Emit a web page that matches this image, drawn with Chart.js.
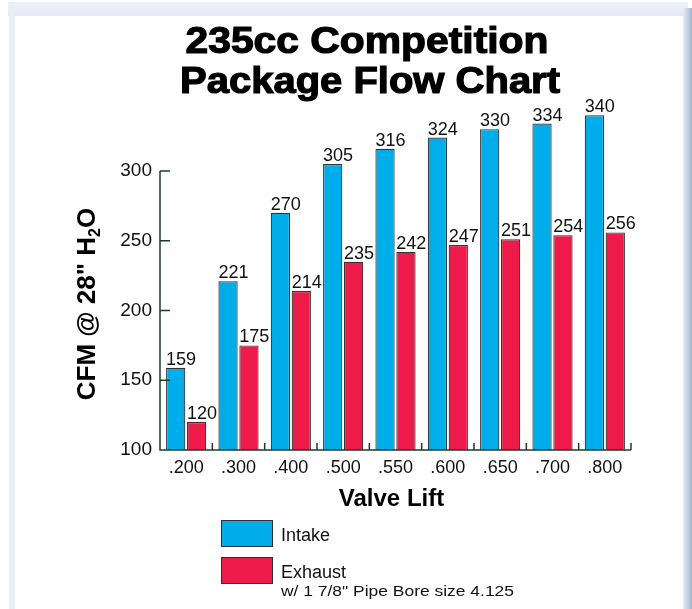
<!DOCTYPE html>
<html>
<head>
<meta charset="utf-8">
<title>235cc Competition Package Flow Chart</title>
<script src="https://cdn.jsdelivr.net/npm/chart.js@4"></script>
<style>
    html, body { margin: 0; padding: 0; background: #fff; }
    .chart-box { position: relative; width: 692px; height: 609px; }
</style>
</head>
<body>
<div class="chart-box"><canvas id="flowChart"></canvas></div>
<script>
// Chart data
const lifts = ['.200', '.300', '.400', '.500', '.550', '.600', '.650', '.700', '.800'];
const intakeCfm = [159, 221, 270, 305, 316, 324, 330, 334, 340];
const exhaustCfm = [120, 175, 214, 235, 242, 247, 251, 254, 256];
const titleLines = ['235cc Competition', 'Package Flow Chart'];
const legendNote = 'w/ 1 7/8" Pipe Bore size 4.125';

const intakeColor = '#00adeb';
const exhaustColor = '#ee1a4a';
const axisColor = '#1f3d2b';
const FONT = '"Liberation Sans", Arial, Helvetica, sans-serif';

// draw text squeezed/stretched to a given width
function fitText(ctx, text, x, y, width, align, stroke) {
    const w = ctx.measureText(text).width;
    const k = width / w;
    ctx.save();
    ctx.translate(x, y);
    ctx.scale(k, 1);
    ctx.textAlign = align || 'center';
    ctx.fillText(text, 0, 0);
    if (stroke) ctx.strokeText(text, 0, 0);
    ctx.restore();
}

// Page frame, titles, legend, axes and value labels
const decorPlugin = {
    id: 'decor',
    beforeDraw(chart) {
        const ctx = chart.ctx;
        const W = chart.width, H = chart.height;
        ctx.save();
        ctx.fillStyle = '#ffffff';
        ctx.fillRect(0, 0, W, H);
        // top band
        const g = ctx.createLinearGradient(0, 0, 0, 17);
        g.addColorStop(0, '#eef2f9');
        g.addColorStop(1, '#e2e9f5');
        ctx.fillStyle = g;
        ctx.fillRect(8, 2, W - 12, 14);
        // left band
        ctx.fillStyle = '#e8edf8';
        ctx.fillRect(9, 2, 6, H);
        // right strip
        const r = ctx.createLinearGradient(683, 0, W, 0);
        r.addColorStop(0, '#e8ecf4');
        r.addColorStop(0.5, '#c9d2e2');
        r.addColorStop(1, '#a3b2cc');
        ctx.fillStyle = r;
        ctx.fillRect(683, 8, W - 683, H);
        ctx.fillStyle = '#ffffff';
        ctx.fillRect(15, 16, 668, H);
        ctx.restore();
    },
    afterDatasetsDraw(chart) {
        const ctx = chart.ctx;
        const area = chart.chartArea;
        const xs = chart.scales.x, ys = chart.scales.y;
        ctx.save();

        // axes lines and inward ticks
        ctx.strokeStyle = axisColor;
        ctx.lineWidth = 1.5;
        ctx.beginPath();
        ctx.moveTo(area.left, area.top);
        ctx.lineTo(area.left, area.bottom);
        ctx.lineTo(area.right, area.bottom);
        ys.ticks.forEach(t => {
            const y = ys.getPixelForValue(t.value);
            ctx.moveTo(area.left, y);
            ctx.lineTo(area.left + 10, y);
        });
        for (let i = 1; i <= lifts.length; i++) {
            const x = i < lifts.length
                ? (xs.getPixelForTick(i - 1) + xs.getPixelForTick(i)) / 2
                : area.right;
            ctx.moveTo(x, area.bottom);
            ctx.lineTo(x, area.bottom - 7);
        }
        ctx.stroke();

        // value labels over the bars
        ctx.fillStyle = '#111';
        ctx.font = '18px ' + FONT;
        ctx.textAlign = 'left';
        ctx.textBaseline = 'alphabetic';
        chart.data.datasets.forEach((ds, di) => {
            chart.getDatasetMeta(di).data.forEach((bar, i) => {
                ctx.fillText(String(ds.data[i]), bar.x - bar.width / 2, bar.y - 3);
            });
        });

        // title
        ctx.fillStyle = '#000';
        ctx.font = 'bold 37px ' + FONT;
        ctx.lineWidth = 1.2;
        ctx.strokeStyle = '#000';
        fitText(ctx, titleLines[0], 367, 53, 363, 'center', true);
        fitText(ctx, titleLines[1], 370, 93, 380, 'center', true);

        // x title
        ctx.font = 'bold 24px ' + FONT;
        ctx.textAlign = 'center';
        ctx.fillText('Valve Lift', (area.left + area.right) / 2 - 4, 506);

        // y title with subscript 2
        ctx.save();
        ctx.translate(95, 304);
        ctx.rotate(-Math.PI / 2);
        const partA = 'CFM @ 28" H';
        const partB = '2';
        const partC = 'O';
        ctx.font = 'bold 26px ' + FONT;
        const wA = ctx.measureText(partA).width;
        const wC = ctx.measureText(partC).width;
        ctx.font = 'bold 16px ' + FONT;
        const wB = ctx.measureText(partB).width;
        let x0 = -(wA + wB + wC) / 2;
        ctx.textAlign = 'left';
        ctx.font = 'bold 26px ' + FONT;
        ctx.fillText(partA, x0, 0);
        ctx.font = 'bold 16px ' + FONT;
        ctx.fillText(partB, x0 + wA, 5);
        ctx.font = 'bold 26px ' + FONT;
        ctx.fillText(partC, x0 + wA + wB, 0);
        ctx.restore();

        // legend
        const boxes = [
            { color: intakeColor, y: 520, label: 'Intake' },
            { color: exhaustColor, y: 557, label: 'Exhaust' }
        ];
        ctx.lineWidth = 1;
        ctx.strokeStyle = '#333';
        boxes.forEach(b => {
            ctx.fillStyle = b.color;
            ctx.fillRect(221, b.y, 52, 27);
            ctx.strokeRect(221.5, b.y + 0.5, 51, 26);
            ctx.fillStyle = '#111';
            ctx.font = '18px ' + FONT;
            ctx.textAlign = 'left';
            ctx.fillText(b.label, 281, b.y + 21);
        });
        ctx.font = '15px ' + FONT;
        fitText(ctx, legendNote, 281, 596, 233, 'left');

        ctx.restore();
    }
};

function initializeChart() {
    const ctx = document.getElementById('flowChart').getContext('2d');
    new Chart(ctx, {
        type: 'bar',
        data: {
            labels: lifts,
            datasets: [{
                label: 'Intake',
                data: intakeCfm,
                backgroundColor: intakeColor,
                borderColor: '#333333',
                borderWidth: 1.2,
                base: 100,
                clip: { left: 0, top: false, right: 0, bottom: 0 }
            }, {
                label: 'Exhaust',
                data: exhaustCfm,
                backgroundColor: exhaustColor,
                borderColor: '#333333',
                borderWidth: 1.2,
                base: 100,
                clip: { left: 0, top: false, right: 0, bottom: 0 }
            }]
        },
        options: {
            responsive: true,
            maintainAspectRatio: false,
            animation: false,
            layout: {
                padding: { top: 171, left: 100, right: 61, bottom: 129 }
            },
            datasets: {
                bar: { categoryPercentage: 0.8, barPercentage: 0.92 }
            },
            plugins: {
                legend: { display: false },
                tooltip: { enabled: false }
            },
            scales: {
                x: {
                    grid: { display: false, drawTicks: false },
                    border: { display: false },
                    ticks: {
                        color: '#111',
                        font: { family: FONT, size: 18 },
                        padding: 7,
                        maxRotation: 0
                    },
                    afterFit(scale) { scale.height = 30; }
                },
                y: {
                    min: 100,
                    max: 300,
                    grid: { display: false, drawTicks: false },
                    border: { display: false },
                    ticks: {
                        stepSize: 50,
                        color: '#111',
                        font: { family: FONT, size: 19 },
                        padding: 8
                    },
                    afterFit(scale) { scale.width = 60; }
                }
            }
        },
        plugins: [decorPlugin]
    });
}

document.addEventListener('DOMContentLoaded', initializeChart);
</script>
</body>
</html>
